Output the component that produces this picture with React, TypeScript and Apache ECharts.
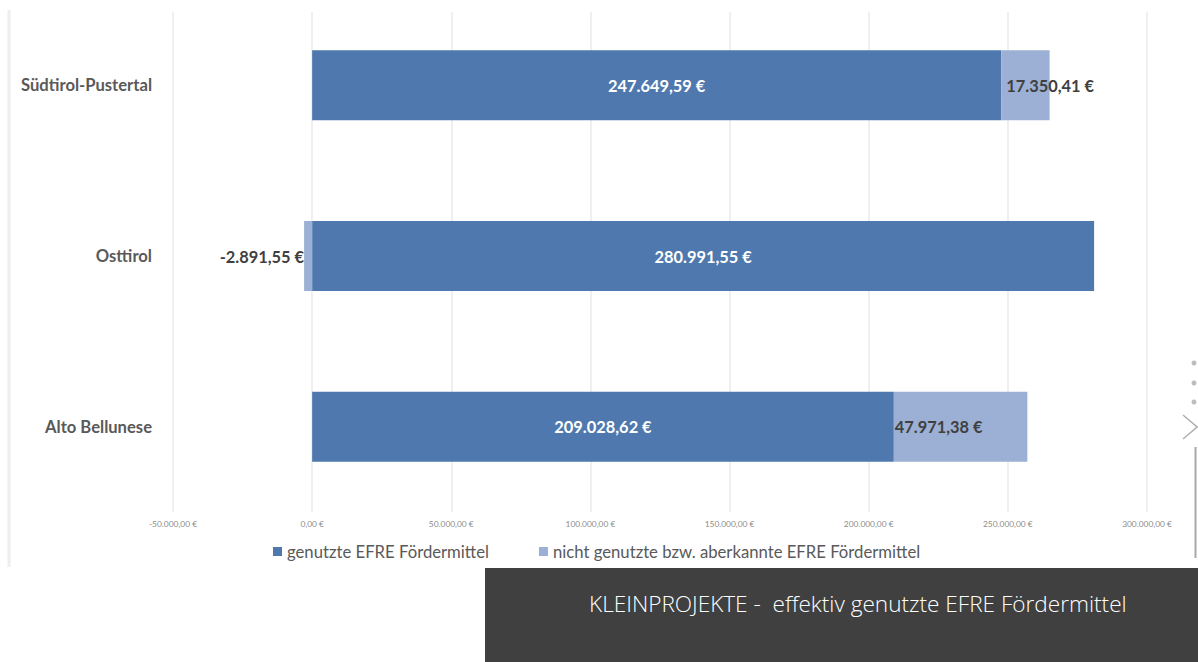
import React, { useEffect, useRef } from "react";
import * as echarts from "echarts";

const categories = ["Südtirol-Pustertal", "Osttirol", "Alto Bellunese"];
const usedValues = [247649.59, 280991.55, 209028.62];
const unusedValues = [17350.41, -2891.55, 47971.38];
const seriesNames = ["genutzte EFRE Fördermittel", "nicht genutzte bzw. aberkannte EFRE Fördermittel"];
const captionText = "KLEINPROJEKTE -  effektiv genutzte EFRE Fördermittel";
const axisMin = -50000;
const axisMax = 300000;
const axisStep = 50000;

function fmtDE(v: number): string {
  const neg = v < 0;
  const a = Math.abs(v);
  const fixed = a.toFixed(2);
  const [ip, dp] = fixed.split(".");
  const withDots = ip.replace(/\B(?=(\d{3})+(?!\d))/g, ".");
  return (neg ? "-" : "") + withDots + "," + dp + " €";
}

const FONT = "Lato, 'Open Sans', sans-serif";

export default function App() {
  const ref = useRef<HTMLDivElement>(null);
  useEffect(() => {
    if (!ref.current) return;
    const chart = echarts.init(ref.current, null, { renderer: "svg" });
    const lightPositions = ["insideLeft", "left", "insideLeft"];
    const lightDistances = [5, 0, 1];
    chart.setOption({
      animation: false,
      backgroundColor: "#ffffff",
      textStyle: { fontFamily: FONT },
      legend: {
        left: 268,
        top: 538,
        itemWidth: 9,
        itemHeight: 9,
        itemGap: 50,
        icon: "rect",
        textStyle: { color: "#595959", fontSize: 16.7, fontFamily: FONT },
        data: seriesNames,
      },
      grid: [
        { left: 173, width: 974, top: -5, height: 517, containLabel: false },
        { left: 173, width: 974, top: 12, height: 500, containLabel: false },
      ],
      xAxis: [
        {
          gridIndex: 0,
          type: "value",
          min: axisMin,
          max: axisMax,
          interval: axisStep,
          axisLabel: { show: false },
          splitLine: { show: false },
          axisLine: { show: false },
          axisTick: { show: false },
        },
        {
          gridIndex: 1,
          type: "value",
          min: axisMin,
          max: axisMax,
          interval: axisStep,
          axisLabel: {
            show: true,
            color: "#8c8c8c",
            fontSize: 8.4,
            margin: 8,
            formatter: (v: number) => fmtDE(v),
          },
          splitLine: { show: true, lineStyle: { color: "#efefef", width: 2 } },
          axisLine: { show: false },
          axisTick: { show: false },
        },
      ],
      yAxis: [
        {
          gridIndex: 0,
          type: "category",
          inverse: true,
          data: categories,
          axisLine: { show: false },
          axisTick: { show: false },
          axisLabel: {
            color: "#595959",
            fontSize: 16.6,
            fontWeight: "bold",
            margin: 21,
            fontFamily: FONT,
          },
        },
        {
          gridIndex: 1,
          type: "category",
          data: categories,
          show: false,
        },
      ],
      series: [
        {
          name: seriesNames[0],
          type: "bar",
          stack: "total",
          xAxisIndex: 0,
          yAxisIndex: 0,
          barWidth: 70,
          itemStyle: { color: "#4f79ae" },
          label: {
            show: true,
            position: "inside",
            color: "#ffffff",
            fontSize: 16.4,
            fontWeight: "bold",
            fontFamily: FONT,
            formatter: (p: any) => fmtDE(p.value),
          },
          data: usedValues,
        },
        {
          name: seriesNames[1],
          type: "bar",
          stack: "total",
          xAxisIndex: 0,
          yAxisIndex: 0,
          barWidth: 70,
          itemStyle: { color: "#9bb0d4" },
          data: unusedValues.map((v, i) => ({
            value: v,
            label: {
              show: true,
              position: lightPositions[i],
              distance: lightDistances[i],
              color: "#404040",
              fontSize: 16.4,
              fontWeight: "bold",
              fontFamily: FONT,
              formatter: (p: any) => fmtDE(p.value),
            },
          })),
        },
      ],
      graphic: [
        {
          type: "line",
          shape: { x1: 9, y1: 10, x2: 9, y2: 567 },
          style: { stroke: "#eeeeee", lineWidth: 3 },
          silent: true,
        },
        {
          type: "rect",
          shape: { x: 485, y: 568, width: 713, height: 94 },
          style: { fill: "#404040" },
          silent: true,
        },
        {
          type: "text",
          x: 589,
          y: 603,
          style: {
            text: captionText,
            fill: "#ffffff",
            fontSize: 22.6,
            fontWeight: 300,
            fontFamily: "'Open Sans', 'Noto Sans', sans-serif",
            verticalAlign: "middle",
            align: "left",
          },
          silent: true,
        },
        { type: "circle", shape: { cx: 1194, cy: 363, r: 2.5 }, style: { fill: "#bdbdbd" }, silent: true },
        { type: "circle", shape: { cx: 1194, cy: 383, r: 2.5 }, style: { fill: "#bdbdbd" }, silent: true },
        { type: "circle", shape: { cx: 1194, cy: 402, r: 2.5 }, style: { fill: "#bdbdbd" }, silent: true },
        {
          type: "polyline",
          shape: { points: [[1183, 415], [1197, 427], [1183, 439]] },
          style: { stroke: "#b0b0b0", lineWidth: 1.5, fill: "none" },
          silent: true,
        },
        {
          type: "line",
          shape: { x1: 1195.5, y1: 447, x2: 1195.5, y2: 558 },
          style: { stroke: "#a8a8a8", lineWidth: 2 },
          silent: true,
        },
      ],
    });
    return () => chart.dispose();
  }, []);
  return (
    <div
      ref={ref}
      style={{ position: "fixed", left: 0, top: 0, width: 1198, height: 662 }}
    />
  );
}
